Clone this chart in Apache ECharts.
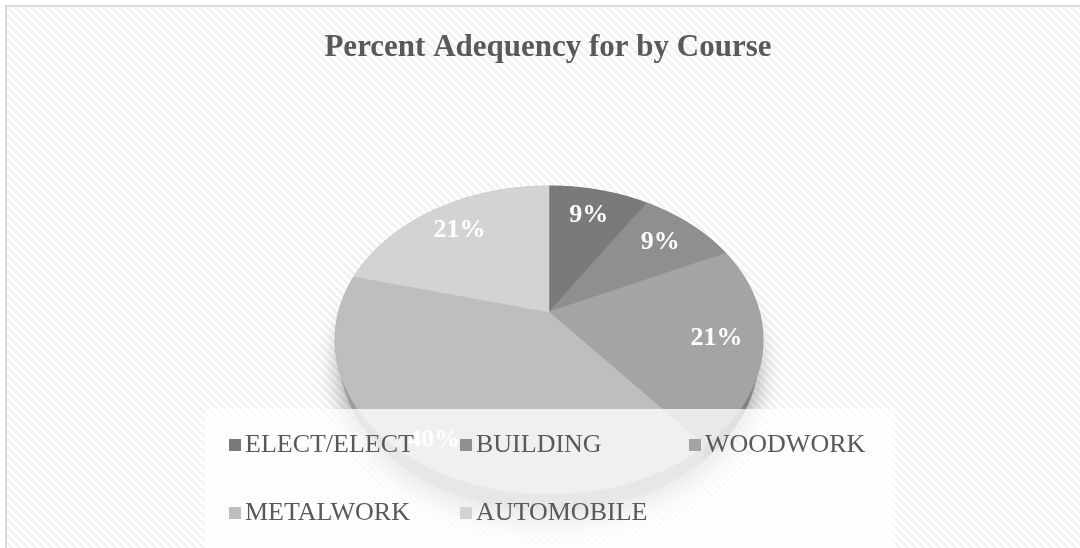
<!DOCTYPE html>
<html>
<head>
<meta charset="utf-8">
<script src="https://cdn.jsdelivr.net/npm/echarts@6/dist/echarts.min.js"></script>
<style>html,body{margin:0;padding:0;background:#fff}#main{width:1080px;height:548px}</style>
</head>
<body>
<div id="main"></div>
<script>
// ---- data ----
const titleText = 'Percent Adequency for by Course';
const categories = ['ELECT/ELECT', 'BUILDING', 'WOODWORK', 'METALWORK', 'AUTOMOBILE'];
const percents = [9, 9, 21, 40, 21];
const colors = ['#7a7a7a', '#8f8f8f', '#a4a4a4', '#bebebe', '#d3d3d3'];
const sideColors = ['#5e5e5e', '#6f6f6f', '#838383', '#9c9c9c', '#b2b2b2'];
const labelRadius = [0.77, 0.77, 0.79, 0.88, 0.77];

// ---- projection of a tilted 3D disc ----
const CX = 549, CY = 312, F = 817.4, D = 3.885, PHI = Math.asin(0.708), H = 0.12;
function proj(X, Y, Z) {
  const c = Math.cos(PHI), s = Math.sin(PHI);
  const depth = D + Z * c - Y * s;
  const up = Y * c + Z * s;
  return [CX + F * X / depth, CY - F * up / depth];
}
function rim(t, Y, rho) { rho = rho == null ? 1 : rho; return proj(rho * Math.sin(t), Y, rho * Math.cos(t)); }

const total = percents.reduce((a, b) => a + b, 0);
const starts = [];
percents.reduce((acc, v, i) => { starts[i] = acc; return acc + v; }, 0);

function renderSlice(idx) {
  return function (params, api) {
    const start = api.value(0), val = api.value(1);
    const t0 = start / total * Math.PI * 2, t1 = (start + val) / total * Math.PI * 2;
    const n = Math.max(4, Math.ceil((t1 - t0) / (Math.PI * 2) * 240));
    const topArc = [], botArc = [];
    for (let k = 0; k <= n; k++) {
      const t = t0 + (t1 - t0) * k / n;
      topArc.push(rim(t, 0));
      botArc.push(rim(t, -H));
    }
    const children = [];
    if (idx === 0) {
      const full = [];
      for (let k = 0; k <= 240; k++) full.push(rim(k / 240 * Math.PI * 2, -H));
      children.push({
        type: 'polygon', z2: -5, shape: { points: full },
        style: { fill: '#b5b5b5', shadowBlur: 24, shadowColor: 'rgba(0,0,0,0.35)', shadowOffsetY: 12 }
      });
    }
    children.push({
      type: 'polygon', z2: 0,
      shape: { points: topArc.concat(botArc.slice().reverse()) },
      style: { fill: sideColors[idx], stroke: sideColors[idx], lineWidth: 0.5 }
    });
    children.push({
      type: 'polygon', z2: 10,
      shape: { points: [proj(0, 0, 0)].concat(topArc) },
      style: { fill: api.visual('color'), stroke: api.visual('color'), lineWidth: 0.5 }
    });
    const tm = (t0 + t1) / 2;
    const lp = rim(tm, 0, labelRadius[idx]);
    children.push({
      type: 'text', z2: 20, x: lp[0], y: lp[1],
      style: {
        text: Math.round(val / total * 100) + '%',
        fill: '#ffffff',
        font: 'bold 26px "Liberation Serif", "Times New Roman", serif',
        align: 'center', verticalAlign: 'middle',
        textAlign: 'center', textVerticalAlign: 'middle'
      }
    });
    return { type: 'group', children: children };
  };
}

// hatch pattern
const pc = document.createElement('canvas');
pc.width = 8; pc.height = 8;
const g = pc.getContext('2d');
g.fillStyle = '#ffffff'; g.fillRect(0, 0, 8, 8);
g.strokeStyle = '#f0f0f0'; g.lineWidth = 2.2;
g.beginPath();
g.moveTo(-2, -2); g.lineTo(10, 10);
g.moveTo(-2, 6); g.lineTo(2, 10);
g.moveTo(6, -2); g.lineTo(10, 2);
g.stroke();

const legendLeft = [229, 460, 689, 229, 460];
const legendTop = [432, 432, 432, 500, 500];

const chart = echarts.init(document.getElementById('main'), null, { renderer: 'canvas' });
chart.setOption({
  backgroundColor: '#ffffff',
  animation: false,
  color: colors,
  title: {
    text: titleText, left: 548, top: 32, textAlign: 'center', padding: 0,
    textStyle: { fontFamily: '"Liberation Serif", "Times New Roman", serif', fontWeight: 'bold', fontSize: 31, color: '#595959' }
  },
  graphic: [
    { type: 'rect', z: -10, silent: true, shape: { x: 6, y: 6, width: 1100, height: 600 },
      style: { fill: { image: pc, repeat: 'repeat' }, stroke: '#d9d9d9', lineWidth: 2 } },
    { type: 'rect', z: 5, silent: true, shape: { x: 205, y: 409, width: 690, height: 150 },
      style: { fill: 'rgba(255,255,255,0.76)' } }
  ],
  legend: categories.map((c, i) => ({
    data: [c], left: legendLeft[i], top: legendTop[i], padding: 0, z: 10,
    icon: 'rect', itemWidth: 12, itemHeight: 12, selectedMode: false,
    textStyle: { fontFamily: '"Liberation Serif", "Times New Roman", serif', fontSize: 26, color: '#595959', padding: [0, 0, 0, -1] }
  })),
  series: categories.map((c, i) => ({
    type: 'custom', name: c, coordinateSystem: 'none', z: 2,
    itemStyle: { color: colors[i] },
    data: [[starts[i], percents[i]]],
    renderItem: renderSlice(i)
  }))
});
</script>
</body>
</html>
